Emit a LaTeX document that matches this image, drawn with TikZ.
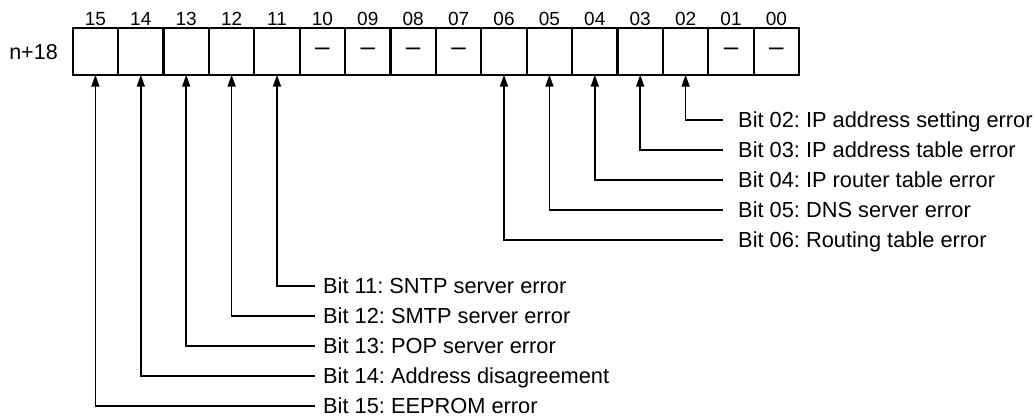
\documentclass[tikz,border=0pt]{standalone}
\usepackage{fontspec}
\setmainfont{Liberation Sans}
\usetikzlibrary{arrows.meta}
\frenchspacing
\begin{document}
\begin{tikzpicture}[x=1pt,y=-1pt,
  cell/.style={draw,line width=2.2pt,minimum width=45.4pt,minimum height=46.4pt,inner sep=0pt,outer sep=0pt},
  dashmark/.style={inner sep=0pt,font=\fontsize{26}{28}\selectfont},
  bitnum/.style={anchor=base,inner sep=0pt,font=\fontsize{19}{21}\selectfont},
  reglbl/.style={inner sep=0pt,font=\fontsize{21.5}{24}\selectfont},
  lbl/.style={anchor=west,inner ysep=0pt,text height=15pt,text depth=0pt,font=\fontsize{21.8}{24}\selectfont},
  conn/.style={line width=1.7pt,-{Triangle[length=12pt,width=8pt]}}]
\useasboundingbox (0,0) rectangle (1036,416);
\foreach \b [count=\i from 0] in {15,14,13,12,11,10,09,08,07,06,05,04,03,02,01,00} {
  \node[cell] (c\b) at ({72.7+45.4*(\i+0.5)},51.5) {};
  \node[bitnum] (n\b) at ({72.7+45.4*(\i+0.5)},25) {\b};
}
\foreach \b in {10,09,08,07,01,00} {
  \node[dashmark] (d\b) at (c\b.center) {\textendash};
}
\node[reglbl] (reg) at (33.5,52.5) {n+18};
% right group
\node[lbl,inner xsep=15pt] (l02) at (723,120) {Bit 02: IP address setting error};
\node[lbl,inner xsep=15pt] (l03) at (723,150) {Bit 03: IP address table error};
\node[lbl,inner xsep=15pt] (l04) at (723,180) {Bit 04: IP router table error};
\node[lbl,inner xsep=15pt] (l05) at (723,210) {Bit 05: DNS server error};
\node[lbl,inner xsep=15pt] (l06) at (723,240) {Bit 06: Routing table error};
% left group
\node[lbl,inner xsep=8pt] (l11) at (315,286) {Bit 11: SNTP server error};
\node[lbl,inner xsep=8pt] (l12) at (315,316) {Bit 12: SMTP server error};
\node[lbl,inner xsep=8pt] (l13) at (315,346) {Bit 13: POP server error};
\node[lbl,inner xsep=8pt] (l14) at (315,376) {Bit 14: Address disagreement};
\node[lbl,inner xsep=8pt] (l15) at (315,406) {Bit 15: EEPROM error};
\foreach \b in {02,03,04,05,06,11,12,13,14,15} {
  \draw[conn] (l\b.west) -| (c\b.south);
}
\end{tikzpicture}
\end{document}
